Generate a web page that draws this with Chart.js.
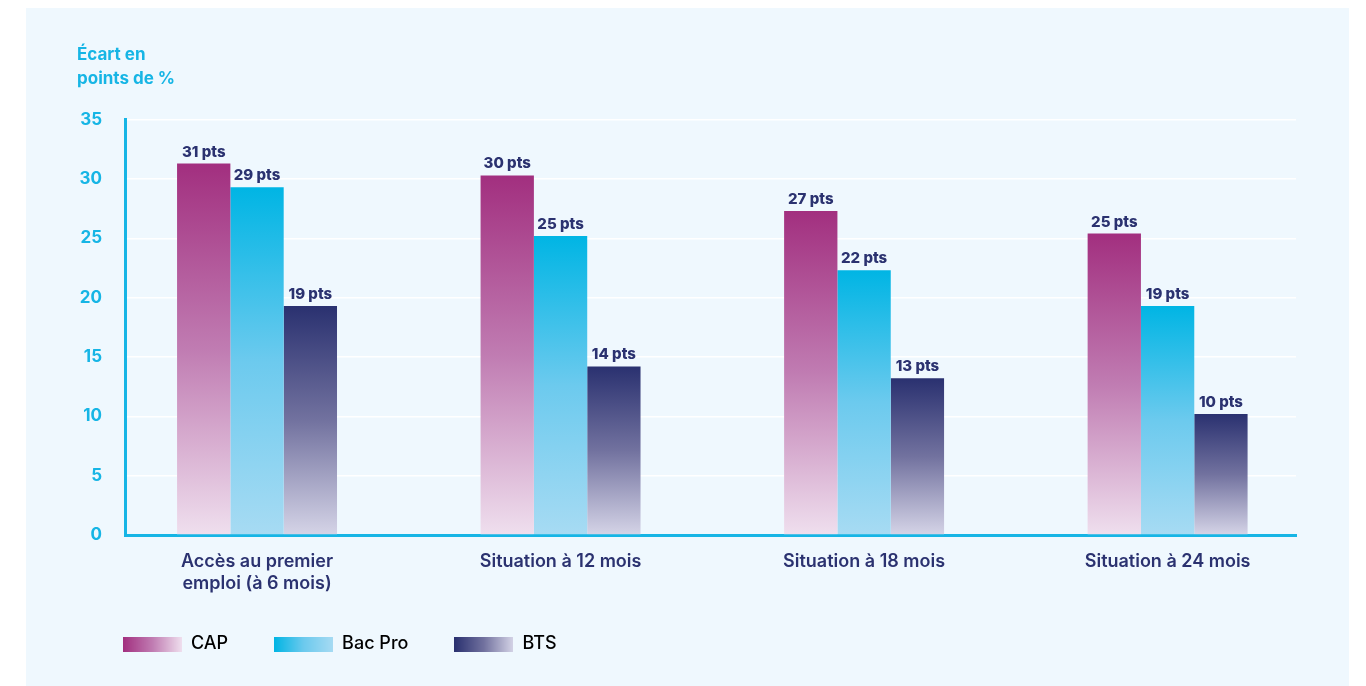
<!DOCTYPE html>
<html>
<head>
<meta charset="utf-8">
<script src="https://cdn.jsdelivr.net/npm/chart.js@4/dist/chart.umd.min.js"></script>
<style>
  body { margin: 0; background: #ffffff; }
  #panel { position: absolute; left: 26px; top: 8px; width: 1323px; height: 678px; background: #eff8fe; }
</style>
</head>
<body>
<div id="panel"><canvas id="chart"></canvas></div>
<script>
const categories = [['Accès au premier', 'emploi (à 6 mois)'], 'Situation à 12 mois', 'Situation à 18 mois', 'Situation à 24 mois'];
const capValues = [31.3, 30.3, 27.3, 25.4];
const bacProValues = [29.3, 25.2, 22.3, 19.3];
const btsValues = [19.3, 14.2, 13.2, 10.2];
const yTicks = [0, 5, 10, 15, 20, 25, 30, 35];

const navy = '#2b3270';
const cyan = '#16b5e5';

const capStops = ['#a22f7f', '#c07cb2', '#efdfee'];
const bacStops = ['#00b5e4', '#6ccaee', '#a7dbf3'];
const btsStops = ['#2a3170', '#72729f', '#d5d4e7'];

function barGradient(stops) {
  return function (c) {
    const chart = c.chart;
    if (!chart.chartArea || c.type !== 'data') return stops[0];
    const y = chart.scales.y;
    const top = y.getPixelForValue(c.raw.y);
    const bottom = y.getPixelForValue(0);
    const g = chart.ctx.createLinearGradient(0, top, 0, bottom);
    g.addColorStop(0, stops[0]);
    g.addColorStop(0.5, stops[1]);
    g.addColorStop(1, stops[2]);
    return g;
  };
}

function legendSwatch(stops) {
  const cv = document.createElement('canvas');
  cv.width = 59;
  cv.height = 15;
  const c = cv.getContext('2d');
  const g = c.createLinearGradient(0, 0, 59, 0);
  g.addColorStop(0, stops[0]);
  g.addColorStop(0.5, stops[1]);
  g.addColorStop(1, stops[2]);
  c.fillStyle = g;
  c.fillRect(0, 0, 59, 15);
  return cv;
}

const series = [
  { label: 'CAP', values: capValues, stops: capStops },
  { label: 'Bac Pro', values: bacProValues, stops: bacStops },
  { label: 'BTS', values: btsValues, stops: btsStops }
];

// value labels above the bars
const valueLabels = {
  id: 'valueLabels',
  afterDatasetsDraw(chart) {
    const ctx = chart.ctx;
    ctx.save();
    ctx.font = '800 15px Inter';
    ctx.fillStyle = navy;
    ctx.textAlign = 'center';
    ctx.textBaseline = 'alphabetic';
    chart.data.datasets.forEach((ds, i) => {
      chart.getDatasetMeta(i).data.forEach((bar, j) => {
        ctx.fillText(Math.round(ds.data[j].y) + ' pts', bar.x, bar.y - 7);
      });
    });
    ctx.restore();
  }
};

new Chart(document.getElementById('chart'), {
  type: 'bar',
  data: {
    datasets: series.map(s => ({
      label: s.label,
      data: s.values.map((v, i) => ({ x: i, y: v })),
      backgroundColor: barGradient(s.stops),
      borderWidth: 0,
      categoryPercentage: 0.527,
      barPercentage: 1
    }))
  },
  options: {
    responsive: true,
    maintainAspectRatio: false,
    animation: false,
    layout: { padding: { left: 51, right: 53, top: 0, bottom: 23 } },
    plugins: {
      title: {
        display: true,
        text: ['Écart en', 'points de %'],
        align: 'start',
        color: cyan,
        font: { family: 'Inter', size: 17, weight: '700', lineHeight: 1.4 },
        padding: { top: 35, bottom: 29 }
      },
      legend: {
        position: 'bottom',
        align: 'start',
        labels: {
          usePointStyle: true,
          pointStyleWidth: 59,
          boxHeight: 15,
          padding: 46,
          color: navy,
          font: { family: 'Inter', size: 18, weight: '500' },
          generateLabels: () => series.map((s, i) => ({
            text: s.label,
            pointStyle: legendSwatch(s.stops),
            fillStyle: s.stops[0],
            strokeStyle: 'transparent',
            lineWidth: 0,
            hidden: false,
            datasetIndex: i
          }))
        }
      },
      tooltip: { enabled: false }
    },
    scales: {
      x: {
        type: 'linear',
        min: -0.435,
        max: 3.423,
        offset: false,
        grid: { display: false, drawTicks: false },
        border: { color: cyan, width: 3 },
        afterBuildTicks: scale => {
          scale.ticks = categories.map((c, i) => ({ value: i }));
        },
        afterFit: scale => {
          scale.height = 54;
          // let the two-line label run past the axis box
          scale._computeLabelArea = () => undefined;
        },
        ticks: {
          autoSkip: false,
          maxRotation: 0,
          padding: 16,
          color: navy,
          font: { family: 'Inter', size: 18, weight: '600', lineHeight: 1.22 },
          callback: v => categories[v]
        }
      },
      y: {
        min: 0,
        max: 35,
        afterBuildTicks: scale => {
          scale.ticks = yTicks.map(v => ({ value: v }));
        },
        afterFit: scale => { scale.width = 48; },
        grid: { color: '#ffffff', lineWidth: 1.5, drawTicks: false },
        border: { color: cyan, width: 3 },
        ticks: {
          padding: 23,
          color: cyan,
          font: { family: 'Inter', size: 17, weight: '700' }
        }
      }
    }
  },
  plugins: [valueLabels]
});
</script>
</body>
</html>
